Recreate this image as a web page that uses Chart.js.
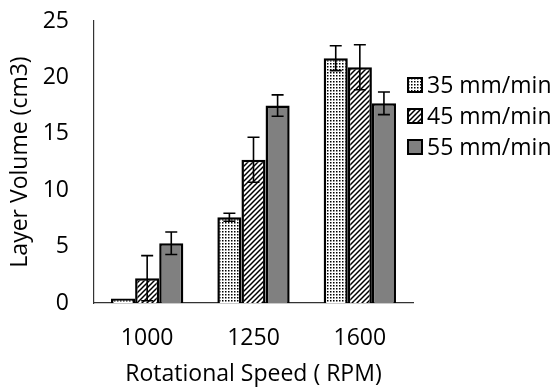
<!DOCTYPE html>
<html>
<head>
<meta charset="utf-8">
<script src="https://cdn.jsdelivr.net/npm/chart.js@4/dist/chart.umd.min.js"></script>
<style>
  html, body { margin: 0; padding: 0; background: #fff; }
  #wrap { width: 558px; height: 388px; }
</style>
</head>
<body>
<div id="wrap"><canvas id="chart" width="558" height="388"></canvas></div>
<script>
const categories = ['1000', '1250', '1600'];
const seriesLabels = ['35 mm/min', '45 mm/min', '55 mm/min'];
const values35 = [0.4, 7.6, 21.7];
const values45 = [2.2, 12.7, 20.9];
const values55 = [5.3, 17.5, 17.7];
const err35 = [0, 0.35, 1.1];
const err45 = [2.0, 2.0, 2.0];
const err55 = [1.0, 0.95, 1.0];
const yTicks = [0, 5, 10, 15, 20, 25];

const FONT = "'Open Sans', 'DejaVu Sans', sans-serif";
const FSIZE = 23;

function makeTile(size, draw) {
    const c = document.createElement('canvas');
    c.width = size; c.height = size;
    const g = c.getContext('2d');
    g.fillStyle = '#fff';
    g.fillRect(0, 0, size, size);
    draw(g);
    return document.getElementById('chart').getContext('2d').createPattern(c, 'repeat');
}

const dotPattern = makeTile(3, g => {
    g.fillStyle = '#000';
    g.fillRect(0, 0, 1.5, 1.5);
});

const hatchPattern = makeTile(5, g => {
    g.strokeStyle = '#000';
    g.lineWidth = 1.5;
    g.beginPath();
    g.moveTo(-1, 6); g.lineTo(6, -1);
    g.moveTo(-4, 4); g.lineTo(4, -4);
    g.moveTo(1, 9); g.lineTo(9, 1);
    g.stroke();
});

const fills = [dotPattern, hatchPattern, '#808080'];
const errors = [err35, err45, err55];

const errorBars = {
    id: 'errorBars',
    afterDatasetsDraw(chart) {
        const ctx = chart.ctx;
        const y = chart.scales.y;
        ctx.save();
        ctx.strokeStyle = '#000';
        ctx.lineWidth = 1.6;
        chart.data.datasets.forEach((ds, i) => {
            const meta = chart.getDatasetMeta(i);
            meta.data.forEach((bar, j) => {
                const e = errors[i][j];
                if (!e) return;
                const v = ds.data[j];
                const top = y.getPixelForValue(v + e);
                const bot = y.getPixelForValue(v - e);
                ctx.beginPath();
                ctx.moveTo(bar.x, top); ctx.lineTo(bar.x, bot);
                ctx.moveTo(bar.x - 6, top); ctx.lineTo(bar.x + 6, top);
                ctx.moveTo(bar.x - 6, bot); ctx.lineTo(bar.x + 6, bot);
                ctx.stroke();
            });
        });
        ctx.restore();
    }
};

const sideLegend = {
    id: 'sideLegend',
    afterDraw(chart) {
        const ctx = chart.ctx;
        ctx.save();
        ctx.font = FSIZE + 'px ' + FONT;
        ctx.textBaseline = 'middle';
        chart.data.datasets.forEach((ds, i) => {
            const cy = 85 + i * 31;
            ctx.fillStyle = ds.backgroundColor;
            ctx.fillRect(408, cy - 7, 14, 14);
            ctx.strokeStyle = '#000';
            ctx.lineWidth = 2;
            ctx.strokeRect(408, cy - 7, 14, 14);
            ctx.fillStyle = '#000';
            ctx.fillText(ds.label, 427, cy + 1);
        });
        ctx.restore();
    }
};

const datasets = [values35, values45, values55].map((vals, i) => ({
    label: seriesLabels[i],
    data: vals,
    backgroundColor: fills[i],
    borderColor: '#000',
    borderWidth: 2.5,
    categoryPercentage: 0.68,
    barPercentage: 1.0
}));

new Chart(document.getElementById('chart'), {
    type: 'bar',
    data: { labels: categories, datasets },
    options: {
        responsive: false,
        animation: false,
        layout: { padding: { left: 0, right: 145, top: 21, bottom: 0 } },
        plugins: {
            legend: { display: false },
            tooltip: { enabled: false }
        },
        scales: {
            x: {
                grid: { display: false, drawTicks: false },
                border: { display: true, color: '#333', width: 1.2 },
                ticks: { color: '#000', padding: 22, font: { family: FONT, size: FSIZE } },
                title: { display: true, text: 'Rotational Speed ( RPM)', color: '#000', padding: 0, font: { family: FONT, size: FSIZE } },
                afterFit: s => { s.height = 85; s.paddingLeft = 0; s.paddingRight = 0; }
            },
            y: {
                min: 0, max: 25,
                afterBuildTicks: s => { s.ticks = yTicks.map(v => ({ value: v })); },
                grid: { display: false, drawTicks: false },
                border: { display: true, color: '#333', width: 1.2 },
                ticks: { color: '#000', padding: 25, font: { family: FONT, size: FSIZE } },
                title: { display: true, text: 'Layer Volume (cm3)', color: '#000', padding: { top: 7, bottom: 0 }, font: { family: FONT, size: FSIZE } },
                afterFit: s => { s.width = 94; s.paddingTop = 0; s.paddingBottom = 0; }
            }
        }
    },
    plugins: [errorBars, sideLegend]
});
</script>
</body>
</html>
